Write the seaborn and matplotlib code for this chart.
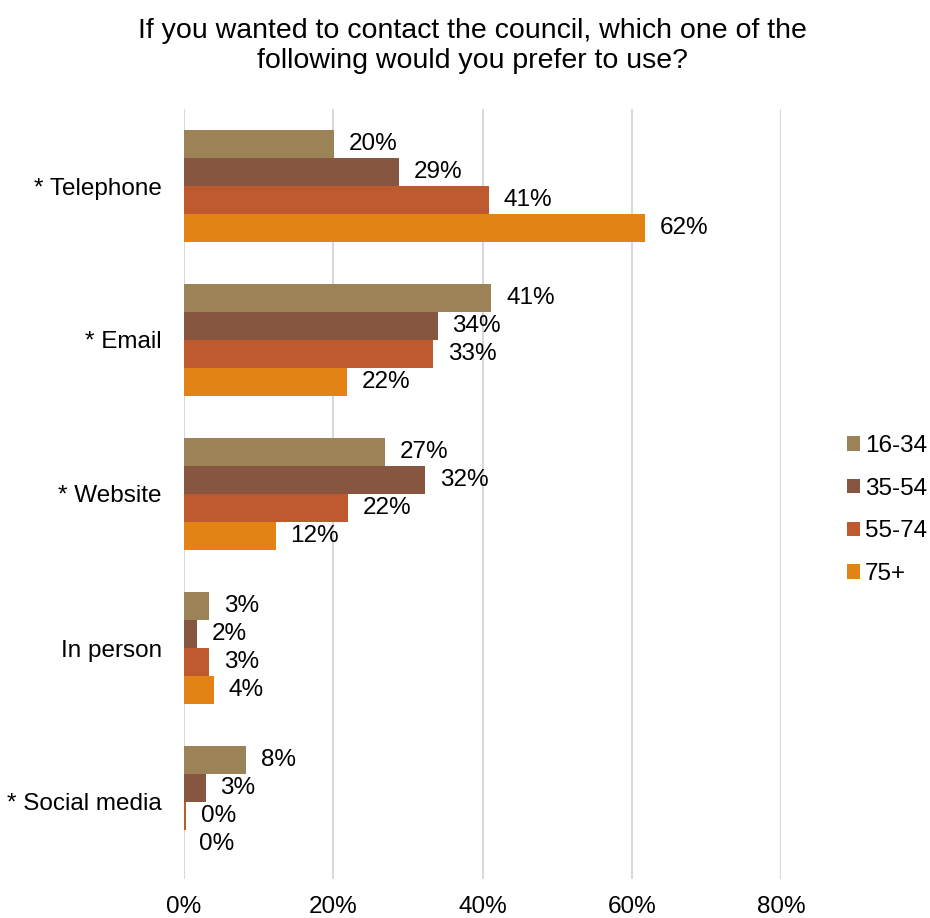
import matplotlib
matplotlib.use("Agg")
import matplotlib.pyplot as plt
import seaborn as sns
import pandas as pd

categories = ["* Telephone", "* Email", "* Website", "In person", "* Social media"]
age_groups = ["16-34", "35-54", "55-74", "75+"]
v_16_34 = [20.1, 41.2, 26.9, 3.4, 8.3]
v_35_54 = [28.8, 34.0, 32.3, 1.7, 2.9]
v_55_74 = [40.9, 33.4, 22.0, 3.4, 0.3]
v_75p = [61.8, 21.8, 12.3, 4.0, 0.0]
colors = ["#9C8357", "#875640", "#BE5A2E", "#E38215"]
x_ticks = [0, 20, 40, 60, 80]

rows = []
for g, vals in zip(age_groups, [v_16_34, v_35_54, v_55_74, v_75p]):
    for c, v in zip(categories, vals):
        rows.append({"category": c, "age": g, "value": v})
df = pd.DataFrame(rows)

sns.set_theme(style="white")
plt.rcParams["font.family"] = ["Liberation Sans", "DejaVu Sans"]
plt.rcParams["text.color"] = "#000000"

FS = 17.5
fig = plt.figure(figsize=(9.3, 9.18), dpi=100)
ax = fig.add_axes([184/930, 1-879/918, (781-184)/930, (879-109)/918])

sns.barplot(data=df, y="category", x="value", hue="age", order=categories,
            hue_order=age_groups, palette=colors, orient="h", width=0.73,
            gap=0, saturation=1, ax=ax, legend=True, errorbar=None,
            linewidth=0, edgecolor="none")

for cont in ax.containers:
    vals = [b.get_width() for b in cont]
    ax.bar_label(cont, labels=[f"{v:.0f}%" for v in vals], padding=10.5,
                 fontsize=FS, color="#000000")

ax.set_xlim(0, 80)
ax.set_xticks(x_ticks)
ax.set_xticklabels([f"{t}%" for t in x_ticks])
ax.set_xlabel("")
ax.set_ylabel("")
ax.grid(axis="x", color="#D9D9D9", linewidth=1.5)
ax.set_axisbelow(True)
for s in ax.spines.values():
    s.set_visible(False)
ax.tick_params(axis="x", length=0, pad=12, labelsize=FS, colors="#000000")
ax.tick_params(axis="y", length=0, pad=16, labelsize=FS, colors="#000000")

handles, labels = ax.get_legend_handles_labels()
leg = ax.legend(handles, labels, loc="center left", bbox_to_anchor=(847/930, 1-510/918),
                bbox_transform=fig.transFigure, frameon=False, fontsize=FS,
                handlelength=0.53, handleheight=0.53, handletextpad=0.2,
                labelspacing=0.85, borderpad=0, borderaxespad=0)
for t in leg.get_texts():
    t.set_color("#000000")

fig.text(472/930, 1-31/918, "If you wanted to contact the council, which one of the",
         ha="center", va="center", fontsize=20.5, color="#000000")
fig.text(472/930, 1-61/918, "following would you prefer to use?",
         ha="center", va="center", fontsize=20.5, color="#000000")

fig.savefig("out.png", dpi=100)
